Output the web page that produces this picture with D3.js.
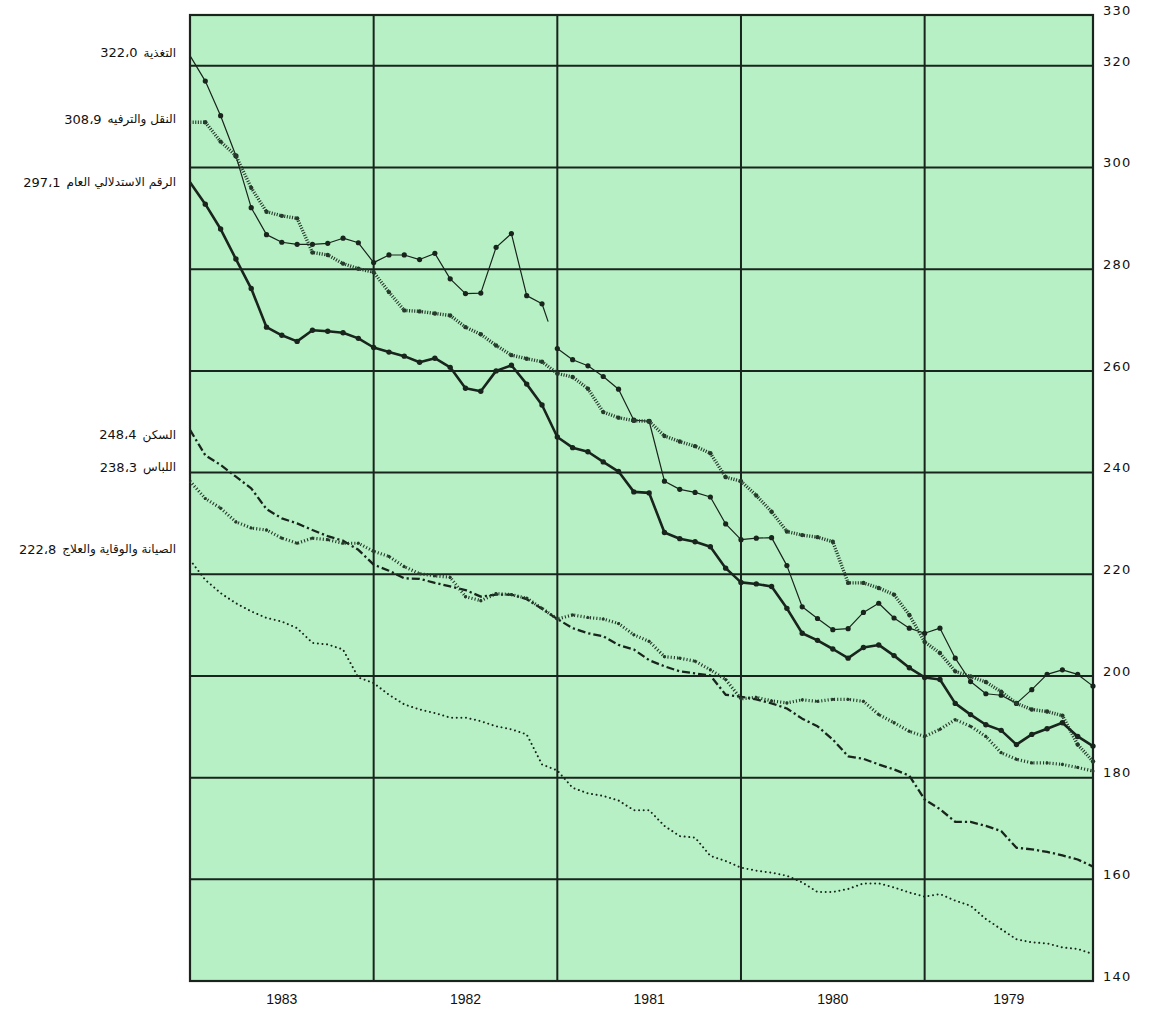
<!DOCTYPE html>
<html><head><meta charset="utf-8">
<script src="https://cdn.jsdelivr.net/npm/d3@7"></script>
<style>body{margin:0;background:#fff}</style>
</head><body><svg id="c" width="1153" height="1015"></svg>
<script>
// ---- data ----
const years = ["1983","1982","1981","1980","1979"];
const yTicks = [330,320,300,280,260,240,220,200,180,160,140];
const gridValues = [320,300,280,260,240,220,200,180,160];
const seriesNames = ["التغذية","النقل والترفيه","الرقم الاستدلالي العام","السكن","اللباس","الصيانة والوقاية والعلاج"];
const seriesLabels = ["322،0","308،9","297،1","248،4","238،3","222،8"];
const labelValues = [322.0,308.9,297.1,248.4,238.3,222.8];
// monthly values, Dec 1983 (left) back to Jan 1979 (right)
const food = [322.0,317.0,310.2,302.3,292.1,286.8,285.3,284.9,284.9,285.1,286.1,285.2,
  281.3,282.8,282.8,281.9,283.1,278.1,275.2,275.3,284.3,287.0,274.8,273.2,
  264.4,262.2,261.0,258.9,256.4,250.3,250.1,238.3,236.7,236.1,235.2,229.9,
  226.8,227.1,227.2,221.7,213.6,211.3,209.1,209.3,212.5,214.3,211.4,209.4,
  208.4,209.4,203.5,198.9,196.5,196.2,194.6,197.3,200.3,201.2,200.3,198.0];
const transport = [308.9,308.9,305.1,302.3,296.0,291.3,290.5,290.0,283.3,282.8,281.1,280.1,
  279.4,275.5,271.9,271.7,271.3,270.9,268.6,267.2,265.0,263.1,262.4,261.8,
  259.5,258.8,256.5,251.9,250.8,250.2,250.1,247.2,246.1,245.2,243.8,239.1,
  238.3,235.5,232.3,228.4,227.7,227.3,226.4,218.3,218.3,217.3,216.0,212.0,
  206.7,204.5,200.9,199.9,198.8,196.9,194.6,193.4,193.0,192.2,186.5,183.2];
const general = [297.1,292.8,287.9,282.0,276.2,268.6,267.0,265.8,268.0,267.8,267.5,266.4,
  264.6,263.7,262.9,261.7,262.5,260.7,256.6,256.0,260.0,261.1,257.4,253.3,
  247.0,244.9,244.1,242.1,240.2,236.2,236.0,228.2,227.0,226.4,225.4,221.2,
  218.4,218.1,217.6,213.3,208.4,207.0,205.3,203.5,205.6,206.1,204.0,201.6,
  199.7,199.3,194.6,192.4,190.4,189.3,186.5,188.5,189.6,190.8,188.1,186.2];
const housing = [248.4,243.4,241.5,239.2,236.9,232.8,231.0,230.0,228.7,227.5,226.6,224.8,
  221.9,220.7,219.2,219.1,218.3,217.6,216.9,215.6,216.0,216.0,215.1,213.2,
  211.2,209.4,208.4,207.8,206.1,205.2,203.1,201.9,200.9,200.5,200.1,196.3,
  195.9,195.4,194.6,193.6,191.6,190.1,187.5,184.2,183.7,182.6,181.6,180.4,
  175.7,173.8,171.3,171.3,170.5,169.5,166.2,165.9,165.4,164.7,163.9,162.5];
const clothing = [238.3,234.9,233.0,230.3,229.1,228.7,227.1,226.1,227.1,226.8,226.1,226.1,
  224.5,223.5,221.5,220.1,219.7,219.4,215.6,214.8,216.2,216.0,215.3,213.3,
  211.2,212.0,211.5,211.2,210.3,208.1,206.8,203.8,203.5,202.9,201.2,199.3,
  195.5,195.8,195.1,194.7,195.3,195.0,195.4,195.4,195.0,192.4,190.8,189.1,
  188.1,189.5,191.4,190.1,188.1,184.9,183.6,182.9,182.9,182.6,182.0,181.3];
const health = [222.8,218.9,216.3,214.3,212.7,211.4,210.7,209.4,206.5,206.2,205.2,199.7,
  198.6,196.3,194.4,193.4,192.7,191.8,191.8,191.1,190.1,189.5,188.5,182.6,
  181.4,178.0,176.9,176.4,175.5,173.6,173.6,170.5,168.5,168.2,164.6,163.6,
  162.3,161.7,161.3,160.7,159.4,157.5,157.5,158.1,159.2,159.2,158.4,157.4,
  156.6,157.1,155.8,154.8,152.2,150.2,148.2,147.6,147.4,146.6,146.3,145.3];

const series = [food, transport, general, housing, clothing, health];

// ---- layout ----
const svg = d3.select("#c");
const ink = "#18241c";
const x = d3.scaleLinear().domain([0, food.length - 1]).range([190, 1093]);
const y = d3.scaleLinear().domain([140, 330]).range([981, 15]);

svg.append("rect").attr("x", x(0)).attr("y", y(330))
  .attr("width", x(food.length - 1) - x(0)).attr("height", y(140) - y(330))
  .attr("fill", "#b8f0c5");

// horizontal grid
svg.append("g").selectAll("line").data(gridValues).join("line")
  .attr("x1", x(0)).attr("x2", x(food.length - 1))
  .attr("y1", d => y(d)).attr("y2", d => y(d))
  .attr("stroke", ink).attr("stroke-width", 2);
// vertical grid at year boundaries
const yearStarts = years.map((d, i) => i * 12);
svg.append("g").selectAll("line").data(yearStarts.slice(1)).join("line")
  .attr("x1", d => x(d)).attr("x2", d => x(d))
  .attr("y1", y(330)).attr("y2", y(140))
  .attr("stroke", ink).attr("stroke-width", 2);
// frame
svg.append("rect").attr("x", x(0)).attr("y", y(330))
  .attr("width", x(food.length - 1) - x(0)).attr("height", y(140) - y(330))
  .attr("fill", "none").attr("stroke", ink).attr("stroke-width", 2.2);

// right axis
const ax = svg.append("g").attr("transform", `translate(${x(food.length - 1) + 4},0)`)
  .call(d3.axisRight(y).tickValues(yTicks).tickSize(0).tickPadding(6).tickFormat(d3.format("d")));
ax.select(".domain").remove();
ax.selectAll("text").attr("font-family", "'DejaVu Sans', sans-serif").attr("font-size", 13)
  .attr("letter-spacing", "1.2px").attr("fill", "#111").attr("dy", "-0.05em");

// year labels
svg.append("g").selectAll("text").data(years).join("text")
  .attr("x", (d, i) => (x(i * 12) + x(Math.min(i * 12 + 12, food.length - 1))) / 2)
  .attr("y", 1004).attr("text-anchor", "middle")
  .attr("font-family", "'Liberation Sans Narrow', 'Liberation Sans', sans-serif")
  .attr("font-size", 14).attr("fill", "#111").text(d => d);

// ---- series ----
const styles = [
  {w: 1.2, dash: null, r: 2.6, col: ink},
  {w: 3.4, dash: "1.1,1.5", r: 2.2, col: "#263a2c"},
  {w: 2.6, dash: null, r: 2.7, col: ink},
  {w: 2.3, dash: "8,3,2.2,3", r: 0, col: ink},
  {w: 3.2, dash: "1.1,2.1", r: 1.6, col: "#263a2c"},
  {w: 2.0, dash: "0.01,4.6", r: 0, col: ink}
];
const gS = svg.append("g");
series.forEach((s, k) => {
  const st = styles[k];
  let pathData = [s];
  if (k === 0) {
    // food line: break between months 23 and 24 (as in the original print)
    pathData = [s.map((v, i) => i <= 23 ? v : null), s.map((v, i) => i >= 24 ? v : null)];
  }
  const ln = d3.line().defined(d => d != null).x((d, i) => x(i)).y(d => y(d));
  pathData.forEach(pd => {
    const p = gS.append("path").attr("d", ln(pd)).attr("fill", "none")
      .attr("stroke", st.col).attr("stroke-width", st.w).attr("stroke-linejoin", "round");
    if (st.dash) p.attr("stroke-dasharray", st.dash).attr("stroke-linecap", k === 5 ? "round" : "butt");
  });
  if (k === 0) {
    // partial stub of the broken segment
    gS.append("line").attr("x1", x(23)).attr("y1", y(s[23]))
      .attr("x2", x(23) + (x(24) - x(23)) * 0.4).attr("y2", y(s[23]) + (y(s[24]) - y(s[23])) * 0.4)
      .attr("stroke", st.col).attr("stroke-width", st.w);
  }
  if (st.r > 0) {
    gS.append("g").selectAll("circle").data(s).join("circle")
      .attr("cx", (d, i) => x(i)).attr("cy", d => y(d)).attr("r", (d, i) => i === 0 ? 0 : st.r)
      .attr("fill", st.col);
  }
});

// ---- left labels ----
const labelDy = [-3, -3, 0, 5, -14, -11];
const gL = svg.append("g");
seriesNames.forEach((name, k) => {
  const yy = y(labelValues[k]) + labelDy[k];
  const t = gL.append("text").attr("x", 176).attr("y", yy).attr("dy", "0.35em")
    .attr("text-anchor", "end").attr("font-family", "'DejaVu Sans', sans-serif")
    .attr("font-size", 12).attr("fill", "#111").text(name);
  const w = t.node().getComputedTextLength();
  gL.append("text").attr("x", 176 - w - 6).attr("y", yy).attr("dy", "0.35em")
    .attr("text-anchor", "end").attr("font-family", "'DejaVu Sans', sans-serif")
    .attr("font-size", 13).attr("fill", "#111").attr("letter-spacing", "0.5px").text(seriesLabels[k]);
});
</script></body></html>
